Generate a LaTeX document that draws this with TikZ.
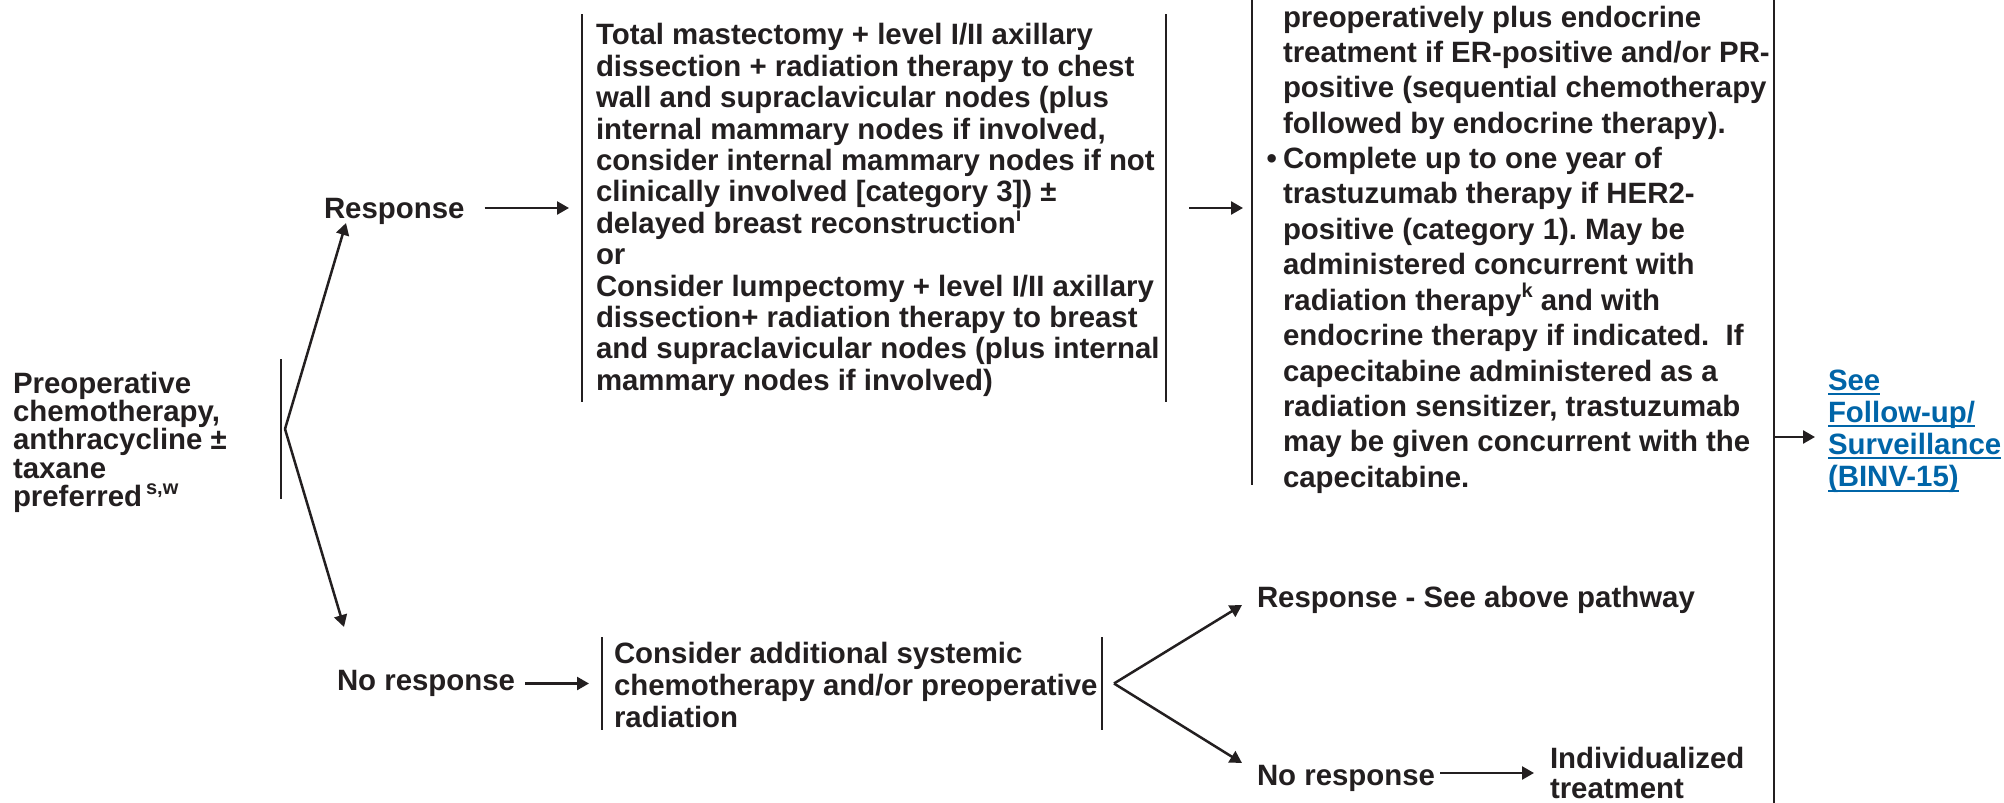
\documentclass[tikz,border=0pt]{standalone}
\usepackage{fontspec}
\setmainfont{Liberation Sans}
\usetikzlibrary{arrows.meta}
\definecolor{ink}{RGB}{35,31,32}
\definecolor{lnk}{RGB}{0,101,168}
\frenchspacing
\newcommand\sups[1]{\raisebox{0.42em}{\fontsize{10pt}{10pt}\selectfont #1}}
\newcommand\blk[2]{\vtop{\baselineskip=#1\relax\lineskiplimit=-\maxdimen #2}}
\newcommand\ulink[1]{\setbox0=\hbox{#1}\rlap{\rule[-2.3pt]{\wd0}{1pt}}\box0}
\begin{document}
\begin{tikzpicture}[x=0.5pt,y=-0.5pt,
  txt/.style={inner sep=0pt, outer sep=0pt, text=ink, anchor=base west,
    font=\fontsize{14.7pt}{16pt}\selectfont\bfseries},
  bar/.style={draw=ink, line width=1.3pt},
  arr/.style={draw=ink, line width=1.25pt, -{Triangle[length=6pt,width=6.5pt]}},
  frame/.style={inner sep=0pt, outer sep=0pt, rectangle}]
\fill[white] (0,0) rectangle (2004,803);
\useasboundingbox (0,0) rectangle (2004,803);

% frames (bars)
\node[frame, minimum height=70pt] (lbar) at (281,429) {};
\node[frame, minimum width=292pt, minimum height=194pt] (midbox) at (874,208) {};
\node[frame, minimum width=261pt, minimum height=242.5pt] (rbox) at (1513,242.5) {};
\node[frame, minimum width=250pt, minimum height=46.5pt] (botbox) at (852,683.5) {};
\node[frame, minimum height=401.5pt] (fbar) at (1774,401.5) {};

\draw[bar] (lbar.north) -- (lbar.south);
\draw[bar] (midbox.north west) -- (midbox.south west);
\draw[bar] (midbox.north east) -- (midbox.south east);
\draw[bar] (rbox.north west) -- (rbox.south west);
\draw[bar] (botbox.north west) -- (botbox.south west);
\draw[bar] (botbox.north east) -- (botbox.south east);
\draw[bar] (fbar.north) -- (fbar.south);

% texts
\node[txt] (pre) at (13,393) {\blk{14.2pt}{%
  \hbox{Preoperative}\hbox{chemotherapy,}\hbox{anthracycline ±}\hbox{taxane}%
  \hbox{preferred\hspace{2pt}\sups{s,w}}}};

\node[txt] (resp) at (324,218) {Response};

\node[txt] (mid) at (596,45) {\blk{15.7pt}{%
  \hbox{Total mastectomy + level I/II axillary}%
  \hbox{dissection + radiation therapy to chest}%
  \hbox{wall and supraclavicular nodes (plus}%
  \hbox{internal mammary nodes if involved,}%
  \hbox{consider internal mammary nodes if not}%
  \hbox{clinically involved [category 3]) ±}%
  \hbox{delayed breast reconstruction\sups{i}}%
  \hbox{or}%
  \hbox{Consider lumpectomy + level I/II axillary}%
  \hbox{dissection+ radiation therapy to breast}%
  \hbox{and supraclavicular nodes (plus internal}%
  \hbox{mammary nodes if involved)}}};

\node[txt] (rtext) at (1283,27) {\blk{17.7pt}{%
  \hbox{preoperatively plus endocrine}%
  \hbox{treatment if ER-positive and/or PR-}%
  \hbox{positive (sequential chemotherapy}%
  \hbox{followed by endocrine therapy).}%
  \hbox{\llap{•\hspace{3pt}}Complete up to one year of}%
  \hbox{trastuzumab therapy if HER2-}%
  \hbox{positive (category 1). May be}%
  \hbox{administered concurrent with}%
  \hbox{radiation therapy\sups{k} and with}%
  \hbox{endocrine therapy if indicated.~ If}%
  \hbox{capecitabine administered as a}%
  \hbox{radiation sensitizer, trastuzumab}%
  \hbox{may be given concurrent with the}%
  \hbox{capecitabine.}}};

\node[txt, text=lnk] (link) at (1828,390) {\blk{16.15pt}{%
  \hbox{\ulink{See}}\hbox{\ulink{Follow-up/}}\hbox{\ulink{Surveillance}}%
  \hbox{\ulink{(BINV-15)}}}};

\node[txt] (nresp) at (337,690) {No response};

\node[txt] (bot) at (614,663) {\blk{16pt}{%
  \hbox{Consider additional systemic}%
  \hbox{chemotherapy and/or preoperative}%
  \hbox{radiation}}};

\node[txt] (resp2) at (1257,607) {Response - See above pathway};
\node[txt] (nresp2) at (1257,785) {No response};
\node[txt] (indiv) at (1550,768) {\blk{15pt}{\hbox{Individualized}\hbox{treatment}}};

% connectors
\coordinate (b1) at ([xshift=2pt]lbar.center);
\coordinate (t1) at (346,223);
\coordinate (t2) at (344,627);
\draw[arr] (b1) -- (t1);
\draw[arr] (b1) -- (t2);

\draw[arr, shorten <=10pt, shorten >=6.5pt] (resp.east |- midbox.west) -- (midbox.west);
\draw[arr, shorten <=11.5pt, shorten >=4.5pt] (midbox.east) -- (midbox.east -| rbox.west);

\coordinate (lk) at (1815,437);
\draw[arr] (fbar.center |- lk) -- (lk);

\draw[arr, shorten <=5pt, shorten >=6.5pt] (nresp.east |- botbox.west) -- (botbox.west);

\coordinate (b2) at ([xshift=6pt]botbox.east);
\coordinate (t3) at (1242,605);
\coordinate (t4) at (1242,763);
\draw[arr] (b2) -- (t3);
\draw[arr] (b2) -- (t4);

\coordinate (ia) at (1534,773);
\draw[arr, shorten <=2.7pt] (nresp2.east |- ia) -- (ia);
\end{tikzpicture}
\end{document}
